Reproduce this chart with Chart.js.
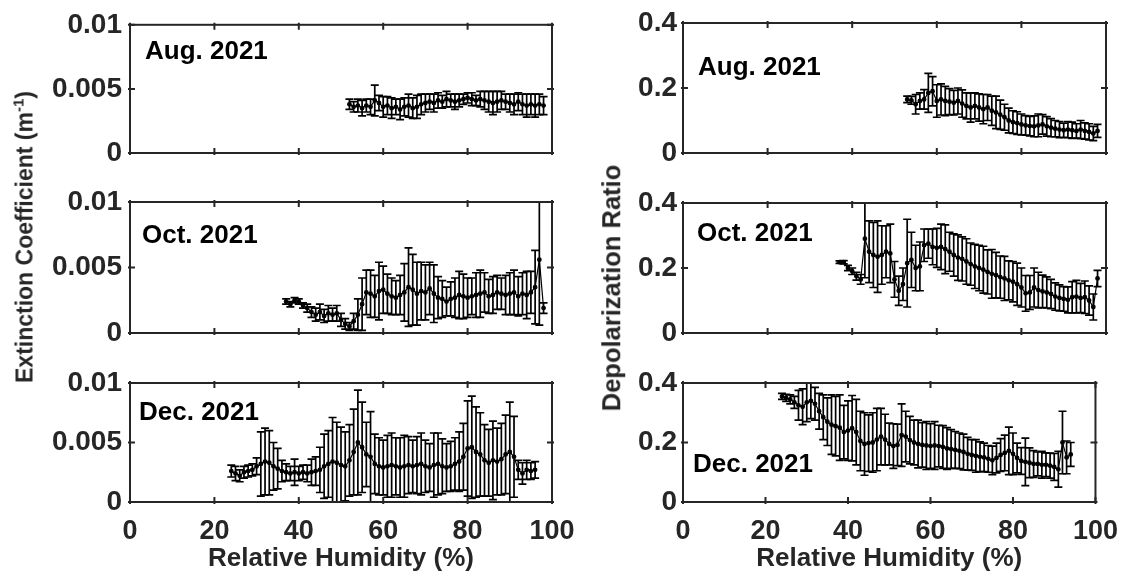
<!DOCTYPE html>
<html>
<head>
<meta charset="utf-8">
<script src="https://cdn.jsdelivr.net/npm/chart.js@4.4.0/dist/chart.umd.min.js"></script>
<style>
  html, body { margin: 0; padding: 0; background: #fff; }
  #wrap { position: relative; width: 1131px; height: 578px; overflow: hidden; font-family: 'Liberation Sans', Arial, sans-serif; }
  #wrap canvas { position: absolute; left: 0; top: 0; }
  .lbl { position: absolute; font-weight: bold; font-size: 26px; color: #000; white-space: nowrap; line-height: 1; }
  .ytitle { position: absolute; font-weight: bold; color: #262626; white-space: nowrap; line-height: 1;
            transform: translate(-50%, -50%) rotate(-90deg); }
  .ytitle sup { font-size: 15px; vertical-align: 9px; line-height: 0; }
</style>
</head>
<body>
<div id="wrap">
  <canvas id="c1" width="1131" height="578"></canvas>
  <canvas id="c2" width="1131" height="578"></canvas>
  <canvas id="c3" width="1131" height="578"></canvas>
  <canvas id="c4" width="1131" height="578"></canvas>
  <canvas id="c5" width="1131" height="578"></canvas>
  <canvas id="c6" width="1131" height="578"></canvas>

  <div class="lbl" style="left:145px;top:37px;">Aug. 2021</div>
  <div class="lbl" style="left:142px;top:221px;">Oct. 2021</div>
  <div class="lbl" style="left:139px;top:398px;">Dec. 2021</div>
  <div class="lbl" style="left:698px;top:53px;">Aug. 2021</div>
  <div class="lbl" style="left:697px;top:219px;">Oct. 2021</div>
  <div class="lbl" style="left:693px;top:450px;">Dec. 2021</div>

  <div class="ytitle" style="left:25px;top:237px;font-size:23px;">Extinction Coefficient (m<sup>-1</sup>)</div>
  <div class="ytitle" style="left:612px;top:288px;font-size:25.5px;">Depolarization Ratio</div>
</div>

<script>
// relative humidity (%) of each bin
const augRh = [52,53,54,55,56,57,58,59,60,61,62,63,64,65,66,67,68,69,70,71,72,73,74,75,76,77,78,79,80,81,82,83,84,85,86,87,88,89,90,91,92,93,94,95,96,97,98];
const octRh = [37,38,39,40,41,42,43,44,45,46,47,48,49,50,51,52,53,54,55,56,57,58,59,60,61,62,63,64,65,66,67,68,69,70,71,72,73,74,75,76,77,78,79,80,81,82,83,84,85,86,87,88,89,90,91,92,93,94,95,96,97,98];
const decRh = [24,25,26,27,28,29,30,31,32,33,34,35,36,37,38,39,40,41,42,43,44,45,46,47,48,49,50,51,52,53,54,55,56,57,58,59,60,61,62,63,64,65,66,67,68,69,70,71,72,73,74,75,76,77,78,79,80,81,82,83,84,85,86,87,88,89,90,91,92,93,94,95,96];
const augDepRh = [53,54,55,56,57,58,59,60,61,62,63,64,65,66,67,68,69,70,71,72,73,74,75,76,77,78,79,80,81,82,83,84,85,86,87,88,89,90,91,92,93,94,95,96,97,98];
const decDepRh = [24,25,26,27,28,29,30,31,32,33,34,35,36,37,38,39,40,41,42,43,44,45,46,47,48,49,50,51,52,53,54,55,56,57,58,59,60,61,62,63,64,65,66,67,68,69,70,71,72,73,74,75,76,77,78,79,80,81,82,83,84,85,86,87,88,89,90,91,92,93,94];

// extinction coefficient (m^-1), mean and std
const augExt = [0.0038,0.0036,0.0037,0.0035,0.0037,0.0036,0.0041,0.0039,0.0036,0.0037,
  0.0035,0.0036,0.0034,0.0036,0.0037,0.0035,0.0036,0.0038,0.0039,0.0040,
  0.0039,0.0041,0.0040,0.0042,0.0041,0.0040,0.0041,0.0042,0.0043,0.0042,
  0.0041,0.0042,0.0041,0.0040,0.0039,0.0040,0.0041,0.0040,0.0039,0.0038,
  0.0040,0.0038,0.0037,0.0038,0.0037,0.0038,0.0037];
const augExtErr = [0.0004,0.0004,0.0005,0.0006,0.0005,0.0006,0.0012,0.0006,0.0008,0.0007,
  0.0008,0.0006,0.0008,0.0007,0.0009,0.0008,0.0009,0.0008,0.0007,0.0006,
  0.0007,0.0006,0.0005,0.0006,0.0005,0.0006,0.0005,0.0004,0.0004,0.0005,
  0.0004,0.0006,0.0007,0.0008,0.0009,0.0008,0.0007,0.0006,0.0007,0.0008,
  0.0007,0.0008,0.0009,0.0008,0.0009,0.0008,0.0007];

const octExt = [0.0024,0.0022,0.0025,0.0024,0.0021,0.0019,0.0016,0.0014,0.0016,0.0013,
  0.0015,0.0014,0.0015,0.0010,0.0007,0.0005,0.0009,0.0014,0.0022,0.0031,
  0.0030,0.0028,0.0032,0.0033,0.0030,0.0028,0.0027,0.0029,0.0031,0.0035,
  0.0033,0.0030,0.0032,0.0031,0.0034,0.0030,0.0027,0.0026,0.0024,0.0026,
  0.0027,0.0029,0.0028,0.0027,0.0028,0.0029,0.0030,0.0031,0.0028,0.0029,
  0.0031,0.0030,0.0029,0.0030,0.0031,0.0028,0.0030,0.0029,0.0031,0.0035,
  0.0056,0.0019];
const octExtErr = [0.0002,0.0002,0.0002,0.0002,0.0002,0.0003,0.0004,0.0005,0.0006,0.0005,
  0.0006,0.0005,0.0006,0.0005,0.0004,0.0003,0.0006,0.0012,0.0020,0.0017,
  0.0018,0.0016,0.0022,0.0018,0.0015,0.0014,0.0013,0.0015,0.0022,0.0030,
  0.0027,0.0024,0.0022,0.0021,0.0020,0.0022,0.0016,0.0014,0.0011,0.0013,
  0.0015,0.0018,0.0017,0.0015,0.0014,0.0017,0.0018,0.0015,0.0013,0.0014,
  0.0013,0.0012,0.0015,0.0016,0.0017,0.0015,0.0016,0.0018,0.0016,0.0028,
  0.0050,0.0004];

const decExt = [0.0026,0.0024,0.0022,0.0025,0.0026,0.0027,0.0030,0.0032,0.0034,0.0033,
  0.0030,0.0028,0.0026,0.0025,0.0024,0.0025,0.0024,0.0025,0.0024,0.0025,
  0.0026,0.0027,0.0030,0.0032,0.0034,0.0033,0.0031,0.0030,0.0035,0.0042,
  0.0050,0.0046,0.0040,0.0038,0.0032,0.0030,0.0029,0.0030,0.0031,0.0030,
  0.0029,0.0030,0.0031,0.0030,0.0031,0.0032,0.0030,0.0029,0.0031,0.0032,
  0.0030,0.0029,0.0030,0.0032,0.0034,0.0038,0.0045,0.0046,0.0042,0.0040,
  0.0035,0.0033,0.0035,0.0034,0.0036,0.0040,0.0042,0.0038,0.0027,0.0024,
  0.0027,0.0026,0.0027];
const decExtErr = [0.0005,0.0006,0.0005,0.0005,0.0005,0.0005,0.0007,0.0027,0.0028,0.0027,
  0.0020,0.0017,0.0009,0.0007,0.0006,0.0011,0.0006,0.0006,0.0007,0.0011,
  0.0012,0.0019,0.0027,0.0028,0.0037,0.0034,0.0032,0.0029,0.0030,0.0036,
  0.0044,0.0038,0.0027,0.0038,0.0025,0.0024,0.0023,0.0026,0.0027,0.0024,
  0.0025,0.0026,0.0024,0.0022,0.0024,0.0026,0.0022,0.0020,0.0027,0.0026,
  0.0023,0.0020,0.0021,0.0022,0.0025,0.0028,0.0040,0.0043,0.0038,0.0035,
  0.0030,0.0028,0.0033,0.0028,0.0030,0.0033,0.0042,0.0034,0.0008,0.0009,
  0.0008,0.0007,0.0007];

// depolarization ratio, mean and std
const augDep = [0.165,0.162,0.150,0.160,0.165,0.185,0.190,0.160,0.165,0.160,
  0.158,0.155,0.160,0.152,0.145,0.140,0.145,0.140,0.135,0.140,
  0.130,0.125,0.118,0.110,0.100,0.095,0.092,0.088,0.085,0.083,
  0.082,0.085,0.088,0.082,0.078,0.075,0.072,0.070,0.072,0.070,
  0.068,0.072,0.068,0.065,0.060,0.068];
const augDepErr = [0.010,0.012,0.030,0.025,0.030,0.060,0.045,0.050,0.048,0.045,
  0.040,0.038,0.040,0.042,0.040,0.045,0.040,0.042,0.045,0.040,
  0.045,0.050,0.045,0.040,0.038,0.035,0.035,0.032,0.030,0.030,
  0.032,0.035,0.030,0.030,0.028,0.025,0.025,0.022,0.025,0.025,
  0.022,0.028,0.025,0.025,0.022,0.020];

const octDep = [0.218,0.218,0.200,0.190,0.175,0.165,0.290,0.250,0.240,0.235,
  0.240,0.250,0.245,0.165,0.130,0.150,0.215,0.225,0.200,0.205,
  0.270,0.275,0.265,0.262,0.265,0.258,0.250,0.240,0.232,0.228,
  0.220,0.212,0.205,0.200,0.195,0.188,0.182,0.178,0.172,0.168,
  0.162,0.158,0.150,0.140,0.122,0.125,0.140,0.132,0.128,0.125,
  0.120,0.112,0.108,0.105,0.102,0.110,0.112,0.108,0.110,0.100,
  0.080,0.168];
const octDepErr = [0.004,0.005,0.008,0.010,0.012,0.015,0.120,0.095,0.100,0.110,
  0.090,0.080,0.090,0.055,0.045,0.050,0.135,0.085,0.070,0.075,
  0.050,0.045,0.055,0.060,0.070,0.075,0.060,0.065,0.070,0.068,
  0.070,0.065,0.068,0.070,0.072,0.068,0.075,0.070,0.065,0.068,
  0.060,0.062,0.065,0.060,0.055,0.052,0.060,0.055,0.050,0.048,
  0.045,0.042,0.040,0.038,0.040,0.048,0.050,0.045,0.050,0.045,
  0.040,0.025];

const decDep = [0.355,0.350,0.345,0.335,0.325,0.320,0.335,0.340,0.330,0.305,
  0.285,0.270,0.260,0.255,0.250,0.235,0.240,0.248,0.235,0.205,
  0.195,0.198,0.200,0.210,0.220,0.210,0.195,0.188,0.192,0.225,
  0.220,0.208,0.200,0.195,0.192,0.190,0.188,0.190,0.188,0.185,
  0.180,0.178,0.175,0.172,0.168,0.162,0.158,0.155,0.152,0.150,
  0.145,0.140,0.148,0.158,0.165,0.172,0.162,0.148,0.138,0.135,
  0.132,0.128,0.128,0.125,0.125,0.122,0.118,0.110,0.200,0.150,
  0.160];
const decDepErr = [0.010,0.012,0.015,0.020,0.050,0.060,0.065,0.060,0.055,0.060,
  0.075,0.080,0.100,0.100,0.110,0.090,0.100,0.110,0.110,0.100,
  0.105,0.095,0.100,0.105,0.095,0.085,0.070,0.075,0.070,0.105,
  0.085,0.080,0.075,0.080,0.075,0.080,0.075,0.080,0.070,0.072,
  0.070,0.065,0.062,0.060,0.060,0.055,0.052,0.055,0.050,0.048,
  0.045,0.048,0.050,0.055,0.060,0.080,0.070,0.050,0.045,0.080,
  0.050,0.045,0.040,0.045,0.040,0.042,0.045,0.060,0.105,0.055,
  0.040];

const xTicks = [0, 20, 40, 60, 80, 100];
const extTicks = [0, 0.005, 0.01];
const depTicks = [0, 0.2, 0.4];

Chart.defaults.font.family = "'Liberation Sans', Arial, sans-serif";
Chart.defaults.font.weight = 'bold';
Chart.defaults.color = '#262626';

const AXIS = '#262626';
const Y_W = 100;

// vertical error bars with caps, clipped to the axes box
const errorBars = {
  id: 'errorBars',
  beforeDatasetsDraw( chart ) {
    const { ctx, chartArea: a, scales: { x, y } } = chart;
    ctx.save();
    ctx.beginPath();
    ctx.rect( a.left, a.top, a.right - a.left, a.bottom - a.top );
    ctx.clip();
    ctx.strokeStyle = '#000';
    ctx.lineWidth = 1.7;
    chart.data.datasets.forEach( ( ds ) => {
      if ( !ds.errors ) return;
      ds.data.forEach( ( p, i ) => {
        const e = ds.errors[i];
        const px = x.getPixelForValue( p.x );
        const top = y.getPixelForValue( p.y + e );
        const bot = y.getPixelForValue( p.y - e );
        ctx.beginPath();
        ctx.moveTo( px, top );
        ctx.lineTo( px, bot );
        ctx.moveTo( px - 4, top );
        ctx.lineTo( px + 4, top );
        ctx.moveTo( px - 4, bot );
        ctx.lineTo( px + 4, bot );
        ctx.stroke();
      } );
    } );
    ctx.restore();
  },
};

// matlab style box with ticks on all four sides
const boxAxes = {
  id: 'boxAxes',
  afterDraw( chart ) {
    const { ctx, chartArea: a, scales: { x, y } } = chart;
    ctx.save();
    ctx.strokeStyle = AXIS;
    ctx.lineWidth = 2;
    ctx.strokeRect( a.left, a.top, a.right - a.left, a.bottom - a.top );
    ctx.beginPath();
    x.ticks.forEach( ( t ) => {
      const px = x.getPixelForValue( t.value );
      ctx.moveTo( px, a.bottom + 2 );
      ctx.lineTo( px, a.bottom - 5 );
      ctx.moveTo( px, a.top - 2 );
      ctx.lineTo( px, a.top + 5 );
    } );
    y.ticks.forEach( ( t ) => {
      const py = y.getPixelForValue( t.value );
      ctx.moveTo( a.left - 2, py );
      ctx.lineTo( a.left + 5, py );
      ctx.moveTo( a.right + 2, py );
      ctx.lineTo( a.right - 5, py );
    } );
    ctx.stroke();
    ctx.restore();
  },
};

function makePanel( id, rh, vals, errs, yTicks, box, bottomRow, yPad ) {
  const [left, top, right, bottom] = box;
  const xH = bottomRow ? 578 - bottom : 0;
  return new Chart( document.getElementById( id ), {
    type: 'line',
    data: {
      datasets: [{
        data: rh.map( ( r, i ) => ( { x: r, y: vals[i] } ) ),
        errors: errs,
        borderColor: '#000',
        backgroundColor: '#000',
        borderWidth: 1.2,
        pointRadius: 1.8,
        pointStyle: 'circle',
        tension: 0,
      }],
    },
    options: {
      responsive: false,
      animation: false,
      layout: {
        padding: { left: left - Y_W, top: top, right: 1131 - right, bottom: 578 - bottom - xH },
      },
      scales: {
        x: {
          type: 'linear',
          min: xTicks[0],
          max: xTicks[xTicks.length - 1],
          afterBuildTicks: ( s ) => { s.ticks = xTicks.map( ( v ) => ( { value: v } ) ); },
          afterFit: ( s ) => { s.height = xH; },
          grid: { display: false, drawTicks: false },
          border: { display: false },
          ticks: {
            display: bottomRow,
            padding: 13,
            color: AXIS,
            font: { size: 27, weight: 'bold' },
            maxRotation: 0,
            autoSkip: false,
          },
          title: {
            display: bottomRow,
            text: 'Relative Humidity (%)',
            color: AXIS,
            font: { size: 26, weight: 'bold' },
            padding: { top: 0, bottom: 4 },
          },
        },
        y: {
          type: 'linear',
          min: yTicks[0],
          max: yTicks[yTicks.length - 1],
          afterBuildTicks: ( s ) => { s.ticks = yTicks.map( ( v ) => ( { value: v } ) ); },
          afterFit: ( s ) => { s.width = Y_W; },
          grid: { display: false, drawTicks: false },
          border: { display: false },
          ticks: {
            padding: yPad,
            color: AXIS,
            font: { size: 28, weight: 'bold' },
            autoSkip: false,
            callback: ( v ) => String( parseFloat( v.toFixed( 4 ) ) ),
          },
        },
      },
      plugins: {
        legend: { display: false },
        tooltip: { enabled: false },
      },
    },
    plugins: [errorBars, boxAxes],
  } );
}

makePanel( 'c1', augRh, augExt, augExtErr, extTicks, [130, 22, 552, 153], false, 8 );
makePanel( 'c2', octRh, octExt, octExtErr, extTicks, [130, 202, 552, 333], false, 8 );
makePanel( 'c3', decRh, decExt, decExtErr, extTicks, [130, 383, 552, 502], true, 8 );
makePanel( 'c4', augDepRh, augDep, augDepErr, depTicks, [683, 23, 1106, 153], false, 6 );
makePanel( 'c5', octRh, octDep, octDepErr, depTicks, [683, 203, 1106, 333], false, 6 );
makePanel( 'c6', decDepRh, decDep, decDepErr, depTicks, [683, 383, 1106, 502], true, 6 );
</script>
</body>
</html>
